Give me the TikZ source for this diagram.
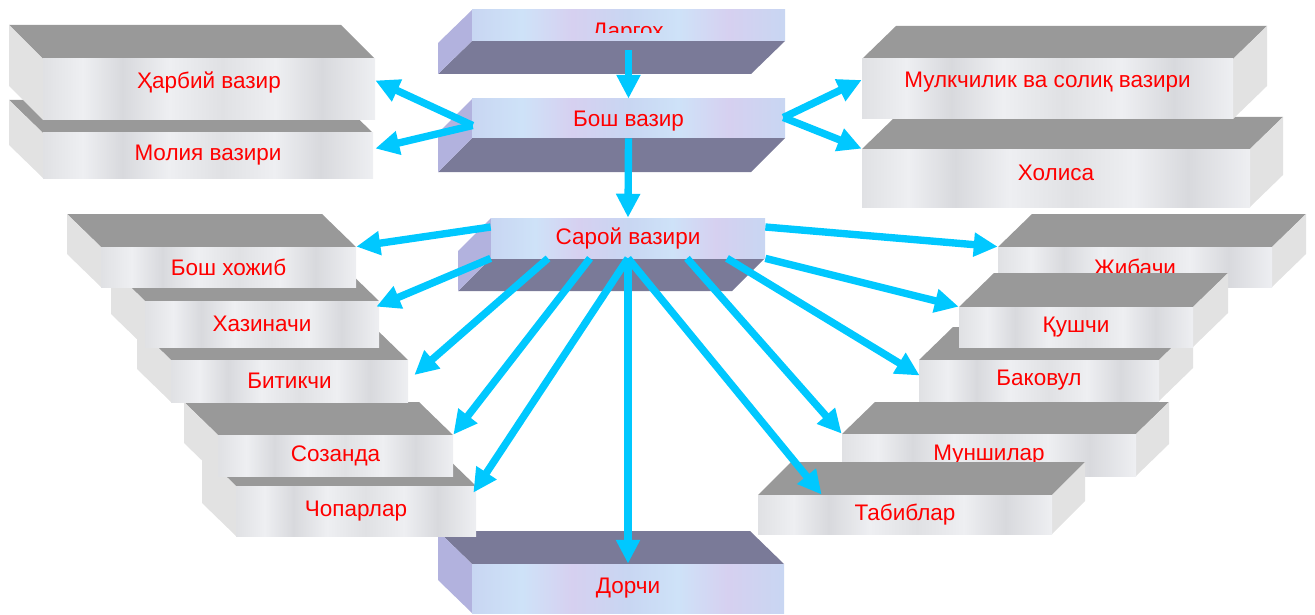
\documentclass[tikz,border=0pt]{standalone}
\usepackage{fontspec}
\setmainfont{Liberation Sans}
\usepackage{tikz}
\usetikzlibrary{arrows.meta,positioning,calc,fit}

\definecolor{linkblue}{RGB}{0,200,255}
\definecolor{topgray}{RGB}{153,153,153}
\definecolor{sidegray}{RGB}{226,226,226}
\definecolor{navyface}{RGB}{122,122,152}
\definecolor{lilacside}{RGB}{178,178,222}
\definecolor{stoneA}{RGB}{224,225,228}
\definecolor{stoneB}{RGB}{238,239,242}
\definecolor{stoneC}{RGB}{216,217,221}
\definecolor{iceA}{RGB}{200,214,242}
\definecolor{iceB}{RGB}{214,208,240}
\definecolor{iceC}{RGB}{206,226,248}

\pgfdeclarehorizontalshading{graymarble}{100bp}{color(0bp)=(stoneA); color(25bp)=(stoneA);
  color(31bp)=(stoneB); color(37bp)=(stoneC); color(44bp)=(stoneB); color(52bp)=(stoneA);
  color(60bp)=(stoneB); color(67bp)=(stoneC); color(75bp)=(stoneB); color(100bp)=(stoneB)}
\pgfdeclarehorizontalshading{bluemarble}{100bp}{color(0bp)=(iceA); color(25bp)=(iceA);
  color(33bp)=(iceC); color(41bp)=(iceB); color(50bp)=(iceA); color(58bp)=(iceC);
  color(66bp)=(iceB); color(75bp)=(iceA); color(100bp)=(iceA)}

\tikzset{
  grayslab/.style={face/.style={fill=topgray}, side/.style={fill=sidegray},
    front/.style={shading=graymarble, inner sep=0pt}},
  blueslab/.style={face/.style={fill=navyface}, side/.style={fill=lilacside},
    front/.style={shading=bluemarble, inner sep=0pt}},
  lbl/.style={text=red, inner sep=0pt, font=\fontsize{12.8}{15}\selectfont},
  link/.style={draw=linkblue, line width=4.2pt, -{Triangle[length=13.6pt,width=13pt]}}
}

% slab: [style] name, x1, y1, x2, y2 (front face), dx, dy (depth), text
\newcommand{\slab}[9][grayslab]{%
  \begin{scope}[#1]
    \pgfmathsetmacro\ye{(#8)<0 ? #4 : #6}
    \pgfmathsetmacro\xe{(#7)<0 ? #3 : #5}
    \fill[face] (#3,\ye) -- (#5,\ye) -- ({#5+(#7)},{\ye+(#8)}) -- ({#3+(#7)},{\ye+(#8)}) -- cycle;
    \fill[side] (\xe,#4) -- ({\xe+(#7)},{#4+(#8)}) -- ({\xe+(#7)},{#6+(#8)}) -- (\xe,#6) -- cycle;
    \node[front, fit={(#3,#4) (#5,#6)}] (#2) {};
    \node[lbl] (#2-t) at (#2) {#9};
  \end{scope}}

\begin{document}
\begin{tikzpicture}[x=0.02cm,y=-0.02cm]
  \useasboundingbox (0,0) rectangle (1315,615);

  % upper wings
  \slab{moliya}{43}{133}{373}{178}{-34}{-33}{Молия вазири}
  \slab[grayslab,lbl/.append style={yshift=4pt}]{harbiy}{43}{59}{375}{120}{-34}{-34}{Ҳарбий вазир}
  \slab[grayslab,lbl/.append style={yshift=3pt}]{xolisa}{862}{149}{1250}{207}{33}{-32}{Холиса}
  \slab[grayslab,lbl/.append style={yshift=4pt}]{mulk}{862}{59}{1233}{119}{34}{-33}{Мулкчилик ва солиқ вазири}

  % central column
  \slab[blueslab]{dargoh}{472}{10}{785}{41}{-34}{33}{}
  \begin{scope}
    \clip (472,10) rectangle (785,33);
    \node[lbl] (dargoh-cut) at (628,33) {Даргох};
  \end{scope}
  \slab[blueslab,lbl/.append style={yshift=-1.5pt}]{bosh}{472}{99}{785}{138}{-34}{34}{Бош вазир}
  \slab[blueslab]{saroy}{491}{218}{765}{258}{-33}{33}{Сарой вазири}
  \slab[blueslab]{dorchi}{472}{564}{784}{613}{-34}{-33}{Дорчи}

  % left stairs
  \slab{chopar}{236}{486}{476}{536}{-34}{-33}{Чопарлар}
  \slab{sozanda}{218}{435}{453}{476}{-34}{-33}{Созанда}
  \slab{bitik}{171}{360}{408}{402}{-34}{-33}{Битикчи}
  \slab{xazina}{145}{301}{379}{347}{-34}{-33}{Хазиначи}
  \slab{hojib}{101}{247}{356}{287}{-34}{-33}{Бош хожиб}

  % right stairs
  \slab{jibachi}{998}{247}{1272}{287}{34}{-33}{Жибачи}
  \slab{bakovul}{919}{360}{1159}{401}{34}{-33}{Баковул}
  \slab{qushchi}{959}{307}{1193}{347}{35}{-34}{Қушчи}
  \slab{munshi}{842}{434}{1136}{476}{33}{-32}{Муншилар}
  \slab{tabib}{758}{495}{1052}{534}{33}{-33}{Табиблар}

  % arrows
  \draw[link] ([shift={(0,9)}]dargoh.south) -- (bosh.north);
  \draw[link] (bosh.south) -- (saroy.north);
  \draw[link] ([shift={(1,7)}]bosh.west) -- ([shift={(0,-9)}]harbiy.east);
  \draw[link] ([shift={(1,7)}]bosh.west) -- ([shift={(2,-7)}]moliya.east);
  \draw[link] ([shift={(-2,-1)}]bosh.east) -- ([shift={(0,-9)}]mulk.west);
  \draw[link] ([shift={(-2,-1)}]bosh.east) -- (xolisa.north west);
  \draw[link] ([shift={(0,-11)}]saroy.west) -- (hojib.north east);
  \draw[link] (saroy.south west) -- ([shift={(-3,6)}]xazina.north east);
  \draw[link] ([shift={(-80,0)}]saroy.south) -- ([shift={(6,-6)}]bitik.east);
  \draw[link] ([shift={(-38,0)}]saroy.south) -- (sozanda.north east);
  \draw[link] (saroy.south) -- ([shift={(-3,7)}]chopar.north east);
  \draw[link] (saroy.south) -- (dorchi.north);
  \draw[link] (saroy.south) -- ([shift={(64,0)}]tabib.north west);
  \draw[link] ([shift={(59,0)}]saroy.south) -- (munshi.north west);
  \draw[link] ([shift={(99,0)}]saroy.south) -- ([shift={(1,-5)}]bakovul.west);
  \draw[link] (saroy.south east) -- (qushchi.north west);
  \draw[link] ([shift={(0,-11)}]saroy.east) -- (jibachi.north west);
\end{tikzpicture}
\end{document}
